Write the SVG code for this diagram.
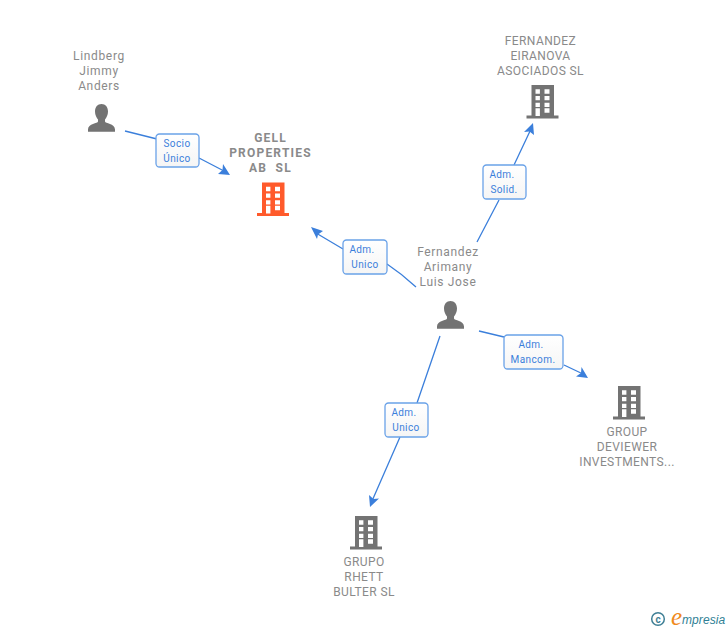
<svg xmlns="http://www.w3.org/2000/svg" xmlns:xlink="http://www.w3.org/1999/xlink" width="728" height="630" viewBox="0 0 728 630">
<style>
text{font-family:Roboto,"Liberation Sans",Arial,sans-serif}
.n{font-size:12px;fill:#8a8a8a;text-anchor:middle;letter-spacing:.4px}
.p{letter-spacing:.65px}
.b{font-weight:bold;letter-spacing:1.2px;white-space:pre}
.l{font-size:10px;fill:#3b7fdb;text-anchor:middle;letter-spacing:.4px}
.c{fill:none;stroke:#3b7fdb;stroke-width:1.3}
.box{fill:url(#g);stroke:#6aa2e8;stroke-width:1.3}
.a{fill:#3b7fdb}
</style>
<defs>
<linearGradient id="g" x1="0" y1="0" x2="0" y2="1"><stop offset="0" stop-color="#fff"/><stop offset="1" stop-color="#f5f5f5"/></linearGradient>
<path id="bld" fill-rule="evenodd" d="M5 0H27.500V30.500H32V33.500H0V30.500H5ZM9 4.300V8.700H13.400V4.300ZM18 4.300V8.700H23V4.300ZM9 11V15.300H13.400V11ZM18 11V15.300H23V11ZM9 17.700V22H13.400V17.700ZM18 17.700V22H23V17.700ZM9 23.300V31H13.400V23.300ZM18 23.300V27.800H23V23.300Z"/>
<path id="per" d="M13.500 0C17.500 0 20 3 20 7.500C20 11 18.500 13.500 17 15.500V17.500C17 19.500 27 19.500 27 25.500V27.700H0V25.500C0 19.500 10 19.500 10 17.500V15.500C8.500 13.500 7 11 7 7.500C7 3 9.500 0 13.500 0Z"/>
</defs>
<g id="connectors">
<path class="c" d="M125 131L157 139M199 158L224 171"/>
<path class="a" d="M230 175L218 174L222.500 170L223 164Z"/>
<path class="c" d="M416 287Q402 274 387 264M343 249L316 233"/>
<path class="a" d="M311 227L323 231L318 234.500L317 239Z"/>
<path class="c" d="M477 242L499 200M514 165L531 129"/>
<path class="a" d="M533 123L534 135L529.500 131.500L524 132Z"/>
<path class="c" d="M479 331L504 337M564 365L583 374"/>
<path class="a" d="M588 378L576 376.500L581 373L581.500 367Z"/>
<path class="c" d="M440 336L417 403M400 437L372 501"/>
<path class="a" d="M370 507L369 495L373.500 499L379 498.500Z"/>
</g>
<g id="edge-labels">
<g><rect class="box" x="156" y="134" width="43" height="33" rx="3.500"/><text class="l" x="177" y="147">Socio</text><text class="l" x="177" y="162">Único</text></g>
<g><rect class="box" x="343" y="240" width="44" height="34" rx="3.500"/><text class="l" x="362" y="253">Adm.</text><text class="l" x="365" y="268">Unico</text></g>
<g><rect class="box" x="483" y="165" width="43" height="34" rx="3.500"/><text class="l" x="502" y="178">Adm.</text><text class="l" x="504" y="193">Solid.</text></g>
<g><rect class="box" x="504" y="335" width="59" height="34" rx="3.500"/><text class="l" x="531" y="348">Adm.</text><text class="l" x="533" y="363">Mancom.</text></g>
<g><rect class="box" x="385" y="403" width="43" height="34" rx="3.500"/><text class="l" x="404" y="416">Adm.</text><text class="l" x="406" y="431">Unico</text></g>
</g>
<g id="node-lindberg"><text class="n p" x="99" y="60">Lindberg</text><text class="n p" x="99" y="75">Jimmy</text><text class="n p" x="99" y="90">Anders</text><use href="#per" x="88" y="104" fill="#737373"/></g>
<g id="node-gell"><text class="n b" x="270.500" y="142">GELL</text><text class="n b" x="270.500" y="157">PROPERTIES</text><text class="n b" x="270.500" y="172">AB  SL</text><use href="#bld" x="257" y="182.500" fill="#ff5a2b"/></g>
<g id="node-fernandez-eiranova"><text class="n" x="540.500" y="45">FERNANDEZ</text><text class="n" x="540.500" y="60">EIRANOVA</text><text class="n" x="540.500" y="75">ASOCIADOS SL</text><use href="#bld" x="526.500" y="85" fill="#737373"/></g>
<g id="node-fernandez-arimany"><text class="n p" x="448" y="256">Fernandez</text><text class="n p" x="448" y="271">Arimany</text><text class="n p" x="448" y="286">Luis Jose</text><use href="#per" x="437" y="301" fill="#737373"/></g>
<g id="node-group-deviewer"><text class="n" x="627" y="436">GROUP</text><text class="n" x="627" y="451">DEVIEWER</text><text class="n" x="627" y="466">INVESTMENTS...</text><use href="#bld" x="613" y="386" fill="#737373"/></g>
<g id="node-grupo-rhett"><text class="n" x="364" y="566">GRUPO</text><text class="n" x="364" y="581">RHETT</text><text class="n" x="364" y="596">BULTER SL</text><use href="#bld" x="350" y="516" fill="#737373"/></g>
<g id="logo">
<circle cx="658" cy="619" r="6.300" fill="none" stroke="#3f7f95" stroke-width="1.500"/>
<text x="658" y="622.500" font-size="10" font-weight="bold" fill="#3f7f95" text-anchor="middle">c</text>
<text x="671" y="625" font-size="25" font-style="italic" fill="#f08a1d" style="font-family:'Liberation Serif',serif">e</text>
<text x="682" y="624" font-size="12" font-style="italic" fill="#2f7f95" letter-spacing=".1" style="font-family:'Liberation Sans',sans-serif">mpresia</text>
</g>
</svg>
